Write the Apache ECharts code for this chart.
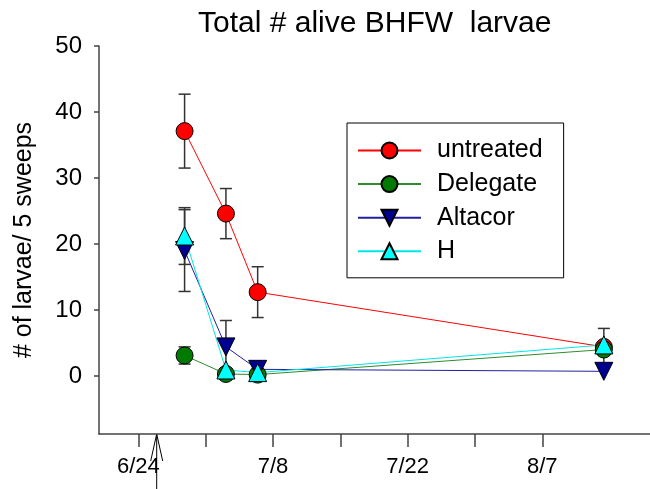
<!DOCTYPE html>
<html style="height: 100%">
<head>
    <meta charset="utf-8">
</head>
<body style="height: 100%; margin: 0">
<div id="container" style="width: 650px; height: 489px"></div>
<script type="text/javascript" src="https://cdn.jsdelivr.net/npm/echarts@6/dist/echarts.min.js"></script>
<script type="text/javascript">

    // days counted from 6/24
    var xDays = [4.8, 9.1, 12.4, 48.4];
    var tickDays = [0, 7, 14, 21, 28, 35, 42];
    var labelDays = {0: '6/24', 14: '7/8', 28: '7/22', 42: '8/7'};
    var yTicks = [0, 10, 20, 30, 40, 50];
    var arrowDay = 1.9;

    var untreated = [37.1, 24.6, 12.7, 4.4];
    var delegate = [3.1, 0.3, 0.2, 4.0];
    var altacor = [19.0, 4.4, 1.0, 0.7];
    var hSeries = [21.2, 0.9, 0.5, 4.7];

    // standard errors (null = no bar drawn)
    var errUntreated = [5.6, 3.8, 3.85, 2.8];
    var errDelegate = [1.3, null, null, null];
    var errAltacor = [6.2, 4.0, null, null];
    var errH = [4.3, null, null, null];

    var font = 'Liberation Sans, Arial, sans-serif';

    function pairs(vals) {
        return vals.map(function (v, i) { return [xDays[i], v]; });
    }

    var errData = [];
    [[untreated, errUntreated], [delegate, errDelegate], [altacor, errAltacor], [hSeries, errH]].forEach(function (p) {
        p[1].forEach(function (e, i) {
            if (e != null) errData.push([xDays[i], p[0][i] - e, p[0][i] + e]);
        });
    });

    function renderErr(params, api) {
        var x = api.value(0);
        var lo = api.coord([x, api.value(1)]);
        var hi = api.coord([x, api.value(2)]);
        var w = 6;
        var st = {stroke: '#333', lineWidth: 1.5};
        return {
            type: 'group',
            children: [
                {type: 'line', shape: {x1: hi[0], y1: hi[1], x2: lo[0], y2: lo[1]}, style: st},
                {type: 'line', shape: {x1: hi[0] - w, y1: hi[1], x2: hi[0] + w, y2: hi[1]}, style: st},
                {type: 'line', shape: {x1: lo[0] - w, y1: lo[1], x2: lo[0] + w, y2: lo[1]}, style: st}
            ]
        };
    }

    function lineSeries(name, vals, lineColor, fill, symbol, rotate, size) {
        return {
            name: name,
            type: 'line',
            data: pairs(vals),
            symbol: symbol,
            symbolRotate: rotate,
            symbolSize: size,
            showAllSymbol: true,
            lineStyle: {color: lineColor, width: 1},
            itemStyle: {color: fill, borderColor: '#000', borderWidth: 1},
            z: 3
        };
    }

    var myChart = echarts.init(document.getElementById('container'));

    var option = {
        animation: false,
        textStyle: {fontFamily: font},
        title: {
            text: 'Total # alive BHFW  larvae',
            left: 193,
            top: 4,
            textStyle: {fontFamily: font, fontSize: 30, fontWeight: 'normal', color: '#000'}
        },
        legend: {
            data: ['untreated', 'Delegate', 'Altacor', 'H'],
            orient: 'vertical',
            left: 347,
            top: 123,
            padding: [15, 21, 14, 10],
            itemWidth: 63,
            itemHeight: 20,
            itemGap: 8.6,
            borderColor: '#000',
            borderWidth: 1,
            textStyle: {fontFamily: font, fontSize: 25, color: '#000', lineHeight: 20, padding: [0, 0, 0, 11]}
        },
        grid: {left: 99, right: 0, top: 46, bottom: 55},
        xAxis: {
            type: 'value',
            min: -4.1,
            max: 53.2,
            splitLine: {show: false},
            axisLine: {onZero: false, lineStyle: {color: '#444', width: 1.5}},
            axisTick: {customValues: tickDays, length: 13, lineStyle: {color: '#444', width: 1.5}},
            axisLabel: {
                customValues: [0, 14, 28, 42],
                margin: 22,
                fontSize: 22,
                color: '#000',
                fontFamily: font,
                formatter: function (v) { return labelDays[v] || ''; }
            }
        },
        yAxis: {
            type: 'value',
            min: -8.8,
            max: 50,
            name: '# of larvae/ 5 sweeps',
            nameLocation: 'middle',
            nameGap: 62,
            nameTextStyle: {fontFamily: font, fontSize: 25, color: '#000'},
            splitLine: {show: false},
            axisLine: {show: true, onZero: false, lineStyle: {color: '#444', width: 1.5}},
            axisTick: {show: true, customValues: yTicks, length: 5, lineStyle: {color: '#444', width: 1.5}},
            axisLabel: {customValues: yTicks, margin: 17, fontSize: 24, color: '#000', fontFamily: font}
        },
        series: [
            {
                name: 'err',
                type: 'custom',
                renderItem: renderErr,
                data: errData,
                encode: {x: 0, y: [1, 2]},
                z: 1,
                silent: true
            },
            lineSeries('untreated', untreated, '#ff0000', '#ff0000', 'circle', 0, 17),
            lineSeries('Delegate', delegate, '#2e8b2e', '#007a00', 'circle', 0, 17),
            lineSeries('Altacor', altacor, '#2020a0', '#000090', 'triangle', 180, 18),
            lineSeries('H', hSeries, '#00e5e5', '#00ffff', 'triangle', 0, 18)
        ]
    };

    myChart.setOption(option);

    // arrow below the axis marking the application date
    var base = myChart.convertToPixel({gridIndex: 0}, [arrowDay, -8.8]);
    myChart.setOption({
        graphic: [
            {type: 'line', shape: {x1: base[0], y1: base[1], x2: base[0], y2: 489}, style: {stroke: '#000', lineWidth: 1}},
            {type: 'polyline', shape: {points: [[base[0] - 6, base[1] + 27], [base[0], base[1]], [base[0] + 6, base[1] + 27]]}, style: {stroke: '#000', lineWidth: 1, fill: null}}
        ]
    });

</script>
</body>
</html>
